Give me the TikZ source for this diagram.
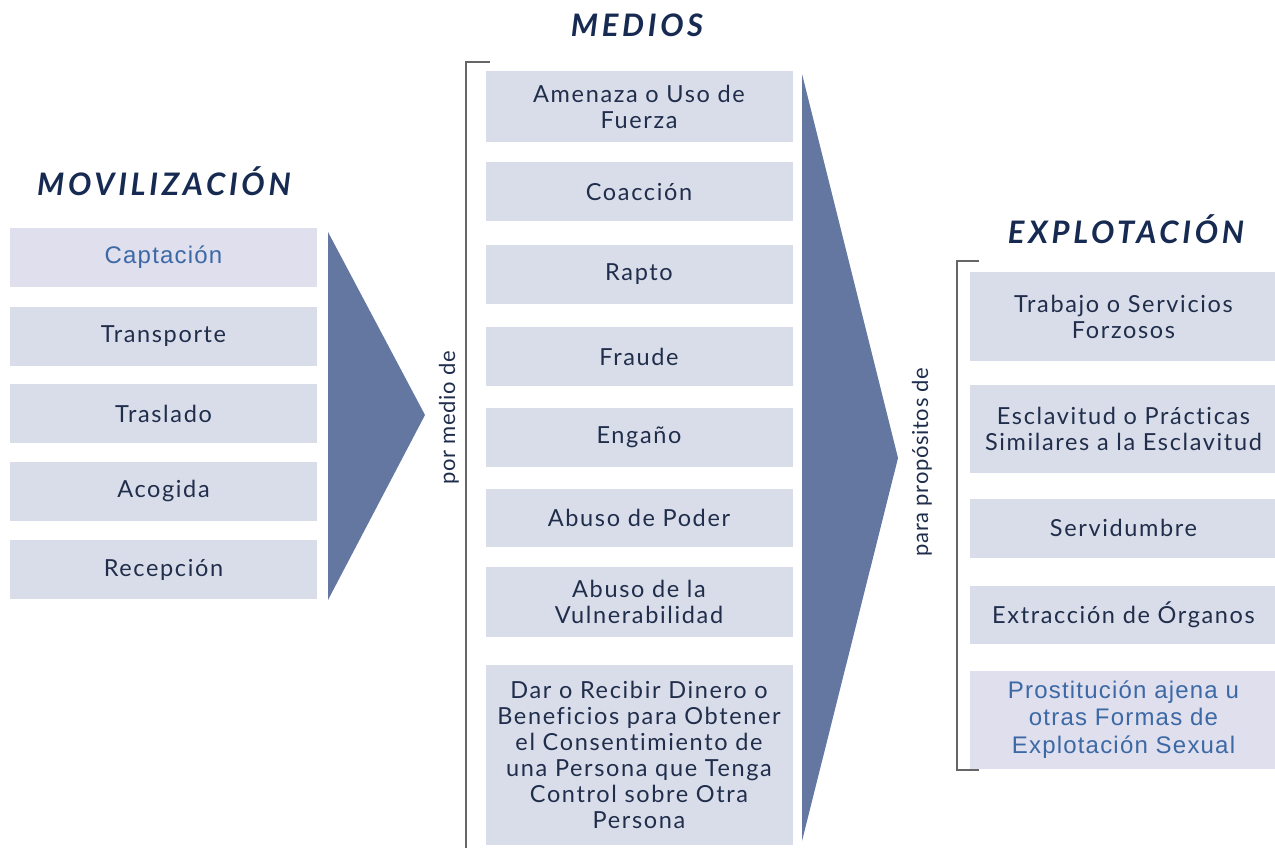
\documentclass[tikz,border=0pt]{standalone}
\usepackage{fontspec}
\setmainfont{Lato}
\newfontfamily\boxfont[LetterSpace=7,Ligatures=NoCommon]{Lato}
\newfontfamily\viafont[LetterSpace=3,Ligatures=NoCommon]{Lato}
\newfontfamily\headfont[LetterSpace=12]{Lato}
\newfontfamily\arialfont[LetterSpace=5]{Liberation Sans}
\usepackage{xcolor}
\usetikzlibrary{positioning}

\definecolor{boxfill}{RGB}{217,221,233}
\definecolor{lavender}{RGB}{223,223,238}
\definecolor{arrowfill}{RGB}{100,119,160}
\definecolor{textcol}{RGB}{32,46,76}
\definecolor{titlecol}{RGB}{22,42,82}
\definecolor{bluetext}{RGB}{60,105,165}

\tikzset{
  box/.style={fill=boxfill, minimum width=307pt, minimum height=59pt, inner sep=0pt,
    align=center, text=textcol, font=\boxfont\fontsize{23.5}{26}\selectfont},
  lila/.style={box, fill=lavender, text=bluetext, font=\arialfont\fontsize{24}{27.5}\selectfont},
  head/.style={anchor=base, text=titlecol, font=\headfont\bfseries\itshape\fontsize{31}{33}\selectfont},
  via/.style={rotate=90, text=textcol, font=\viafont\fontsize{22}{24}\selectfont},
  flecha/.style={fill=arrowfill},
  llave/.style={draw=gray!80!black, line width=1.3pt}
}

\begin{document}
\begin{tikzpicture}[x=1pt,y=-1pt]
   \useasboundingbox (0,0) rectangle (1275,848);

   % titulos
   \node[head] (tmov) at (164,195) {MOVILIZACIÓN};
   \node[head] (tmed) at (637,37) {MEDIOS};
   \node[head] (texp) at (1126,243) {EXPLOTACIÓN};

   % movilizacion
   \node[lila] (capt) at (163.5,257) {Captación};
   \node[box] (trans) [below=20pt of capt] {Transporte};
   \node[box] (trasl) [below=18pt of trans] {Traslado};
   \node[box] (acog) [below=18pt of trasl] {Acogida};
   \node[box] (recep) [below=19pt of acog] {Recepción};

   \fill[flecha] (328,232) -- (425,415) -- (328,600) -- cycle;
   \node[via] (pormedio) at (449,418) {por medio de};

   % medios
   \draw[llave] (490,62) -- (466,62) -- (466,848);
   \tikzset{every node/.append style={minimum width=306pt}}
   \node[box, minimum height=71pt] (amen) at (639,106.5) {Amenaza o Uso de\\Fuerza};
   \node[box] (coac) [below=20pt of amen] {Coacción};
   \node[box] (rapto) [below=23pt of coac] {Rapto};
   \node[box] (fraude) [below=23pt of rapto] {Fraude};
   \node[box] (engano) [below=21pt of fraude] {Engaño};
   \node[box, minimum height=58pt] (poder) [below=22pt of engano] {Abuso de Poder};
   \node[box, minimum height=70pt] (vuln) [below=20pt of poder] {Abuso de la\\Vulnerabilidad};
   \node[box, minimum height=180pt] (dinero) [below=27pt of vuln]
      {Dar o Recibir Dinero o\\Beneficios para Obtener\\el Consentimiento de\\una Persona que Tenga\\Control sobre Otra\\Persona};

   \fill[flecha] (802,74) -- (898,458) -- (802,841) -- cycle;
   \node[via, minimum width=0pt] (proposito) at (922,462) {para propósitos de};

   % explotacion
   \draw[llave] (979,261) -- (957,261) -- (957,770) -- (979,770);
   \tikzset{every node/.append style={minimum width=303pt}}
   \node[box, minimum height=89pt] (trab) at (1123.5,316.5) {Trabajo o Servicios\\Forzosos};
   \node[box, minimum height=88pt] (escl) [below=24pt of trab] {Esclavitud o Prácticas\\Similares a la Esclavitud};
   \node[box] (serv) [below=25pt of escl] {Servidumbre};
   \node[box, minimum height=58pt] (organ) [below=28pt of serv] {Extracción de Órganos};
   \node[lila, minimum height=98pt] (prost) [below=26pt of organ]
      {Prostitución ajena u\\otras Formas de\\Explotación Sexual};
\end{tikzpicture}
\end{document}
